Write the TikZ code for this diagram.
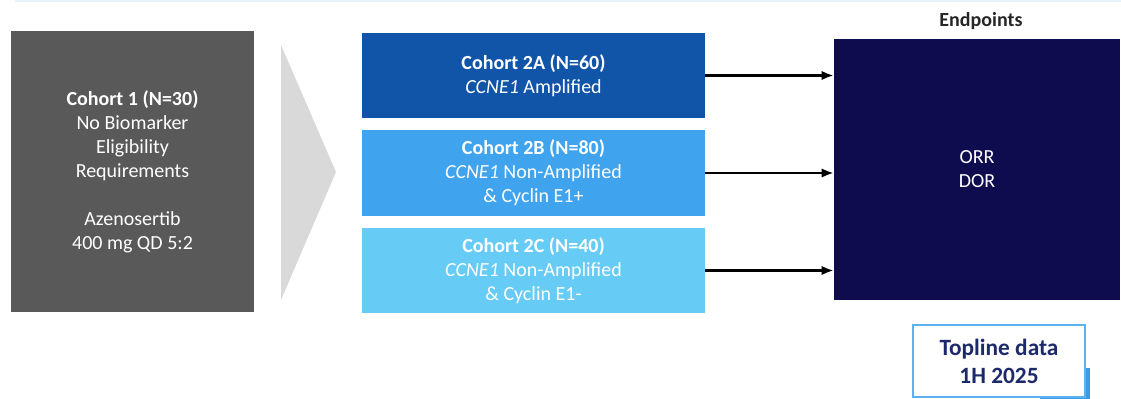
\documentclass[tikz,border=0pt]{standalone}
\usepackage{fontspec}
\setmainfont{Carlito}
\usetikzlibrary{arrows.meta}

\definecolor{boxgrey}{HTML}{595959}
\definecolor{chevgrey}{HTML}{D9D9D9}
\definecolor{cohA}{HTML}{1155A8}
\definecolor{cohB}{HTML}{3FA3EE}
\definecolor{cohC}{HTML}{66CCF5}
\definecolor{endnavy}{HTML}{0E0B4F}
\definecolor{topnavy}{HTML}{1C2A6B}
\definecolor{topblue}{HTML}{5CB2F0}
\definecolor{shadowblue}{HTML}{3A9BE8}
\definecolor{rulelight}{HTML}{E6F3FC}

\tikzset{
  cohortbox/.style={rectangle, text=white, align=center, font=\fontsize{15}{18}\selectfont,
    minimum width=257.25pt, minimum height=63.75pt, inner sep=0pt},
  flowarrow/.style={-{Latex[length=9pt,width=7pt]}, line width=2.2pt}
}

\begin{document}
\begin{tikzpicture}[x=0.75pt,y=-0.75pt]
  \useasboundingbox (0,0) rectangle (1121,399);

  % feine Linie oben
  \draw[rulelight, line width=1.5pt] (15,1.5) -- (1121,1.5);

  % Kohorte 1
  \node[rectangle, fill=boxgrey, text=white, align=center, font=\fontsize{15}{18}\selectfont,
    minimum width=182.25pt, minimum height=210.75pt, inner sep=0pt] (cohortone) at (132.5,171.5)
    {\textbf{Cohort 1 (N=30)}\\No Biomarker\\Eligibility\\Requirements\\[18pt]Azenosertib\\400 mg QD 5:2};

  % Pfeilspitze grau
  \fill[chevgrey] (281,45) -- (336,172) -- (281,300) -- cycle;

  % Kohorten 2A--2C
  \node[cohortbox, fill=cohA] (cohortA) at (533.5,75.5)
    {\textbf{Cohort 2A (N=60)}\\\textit{CCNE1} Amplified};
  \node[cohortbox, fill=cohB, minimum height=64.5pt] (cohortB) at (533.5,173)
    {\textbf{Cohort 2B (N=80)}\\\textit{CCNE1} Non-Amplified\\\& Cyclin E1+};
  \node[cohortbox, fill=cohC] (cohortC) at (533.5,270.5)
    {\textbf{Cohort 2C (N=40)}\\\textit{CCNE1} Non-Amplified\\\& Cyclin E1-};

  % Endpunkte
  \node[rectangle, fill=endnavy, text=white, align=center, font=\fontsize{15}{18}\selectfont,
    minimum width=214.5pt, minimum height=195.75pt, inner sep=0pt] (endpoints) at (977,169.5)
    {ORR\\DOR};
  \node[font=\fontsize{15}{18}\selectfont\bfseries, text=black!85] (endlabel) at (981,21) {Endpoints};

  % Pfeile
  \draw[flowarrow] (cohortA.east) -- (cohortA.east -| endpoints.west);
  \draw[flowarrow] (cohortB.east) -- (cohortB.east -| endpoints.west);
  \draw[flowarrow] (cohortC.east) -- (cohortC.east -| endpoints.west);

  % Topline-Kasten
  \fill[shadowblue] (1085,368) rectangle (1090,399);
  \fill[shadowblue] (1040,396.5) rectangle (1090,399);
  \node[rectangle, draw=topblue, line width=1.5pt, fill=white, text=topnavy, align=center,
    font=\fontsize{17.5}{21}\selectfont\bfseries,
    minimum width=129pt, minimum height=54pt, inner sep=0pt] (topline) at (999,361)
    {Topline data\\1H 2025};
\end{tikzpicture}
\end{document}
